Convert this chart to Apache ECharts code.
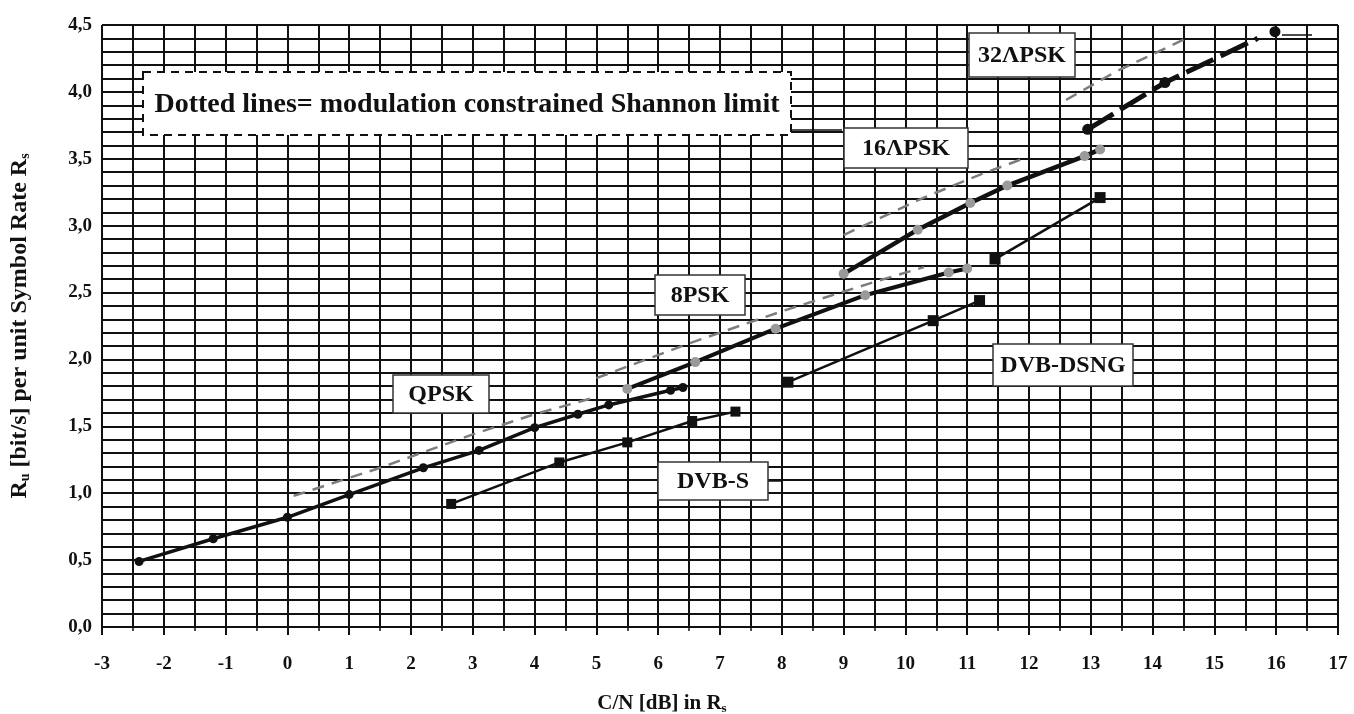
<!DOCTYPE html>
<html>
<head>
<meta charset="utf-8">
<title>Spectral efficiency vs C/N</title>
<script src="https://cdn.jsdelivr.net/npm/echarts@6/dist/echarts.min.js"></script>
<style>
  html, body { margin: 0; padding: 0; background: #fff; }
  #chart { width: 1354px; height: 714px; }
</style>
</head>
<body>
<div id="chart"></div>
<script>
// C/N [dB] (x) and efficiency [bit/s per symbol] (y)
const qpskCN = [-2.4, -1.2, 0.0, 1.0, 2.2, 3.1, 4.0, 4.7, 5.2, 6.2, 6.4]
const qpskEff = [0.49, 0.66, 0.82, 0.99, 1.19, 1.32, 1.49, 1.59, 1.66, 1.77, 1.79]

const psk8CN = [5.5, 6.6, 7.9, 9.35, 10.7, 11.0]
const psk8Eff = [1.78, 1.98, 2.23, 2.48, 2.65, 2.68]

const apsk16CN = [9.0, 10.2, 11.05, 11.65, 12.9, 13.15]
const apsk16Eff = [2.64, 2.97, 3.17, 3.30, 3.52, 3.57]

// last point of the 32APSK line has no marker, the end marker sits apart
const apsk32CN = [12.95, 14.2, 15.7]
const apsk32Eff = [3.72, 4.07, 4.40]
const apsk32EndCN = [15.98]
const apsk32EndEff = [4.45]

const dvbsCN = [2.65, 4.4, 5.5, 6.55, 7.25]
const dvbsEff = [0.92, 1.23, 1.38, 1.54, 1.61]

const dsng8CN = [8.1, 10.45, 11.2]
const dsng8Eff = [1.83, 2.29, 2.44]
const dsng16CN = [11.45, 13.15]
const dsng16Eff = [2.75, 3.21]

// modulation constrained Shannon limits (dotted lines)
const limQpskCN = [0.1, 1.5, 3.0, 4.0, 5.0]
const limQpskEff = [0.98, 1.19, 1.44, 1.59, 1.72]
const lim8CN = [5.0, 6.5, 8.0, 9.5, 10.3]
const lim8Eff = [1.86, 2.12, 2.36, 2.58, 2.69]
const lim16CN = [9.0, 10.3, 11.2, 11.9]
const lim16Eff = [2.93, 3.21, 3.38, 3.5]
const lim32CN = [12.6, 13.4, 14.5]
const lim32Eff = [3.94, 4.15, 4.39]

const xTicks = { min: -3, max: 17, step: 1 }
const yTicks = { min: 0, max: 4.5, step: 0.5 }

const pairs = (xs, ys) => xs.map((x, i) => [x, ys[i]])

const serif = 'Liberation Serif, Times New Roman, serif'
const ink = '#111'

const chart = echarts.init(document.getElementById('chart'))

const solid = (name, xs, ys, opts) => ({
  name,
  type: 'line',
  data: pairs(xs, ys).map((p, i) =>
    opts.noLastMark && i === xs.length - 1 ? { value: p, symbol: 'none' } : p
  ),
  z: 5,
  showAllSymbol: true,
  symbol: opts.symbol || 'circle',
  symbolSize: opts.size || 7,
  lineStyle: { color: ink, width: opts.width || 3, type: opts.dash || 'solid' },
  itemStyle: { color: opts.marker || ink },
  animation: false
})

const limit = (name, xs, ys) => ({
  name,
  type: 'line',
  data: pairs(xs, ys),
  z: 4,
  symbol: 'none',
  lineStyle: { color: '#7d7d7d', width: 2.5, type: [12, 8] },
  animation: false
})

const box = (text, cx, cy, w, h, size) => ({
  type: 'group',
  z: 100,
  children: [
    {
      type: 'rect',
      shape: { x: cx - w / 2, y: cy - h / 2, width: w, height: h },
      style: { fill: '#fff', stroke: '#333', lineWidth: 1.5 },
      z: 100
    },
    {
      type: 'text',
      x: cx,
      y: cy + 1,
      style: {
        text,
        fill: ink,
        font: 'bold ' + (size || 24) + 'px ' + serif,
        align: 'center',
        verticalAlign: 'middle'
      },
      z: 101
    }
  ]
})

// short leader line next to a label
const leader = (x1, y1, x2, y2) => ({
  type: 'line',
  z: 100,
  shape: { x1, y1, x2, y2 },
  style: { stroke: ink, lineWidth: 1.5 }
})

const option = {
  backgroundColor: '#fff',
  animation: false,
  grid: { left: 102, right: 16, top: 25, bottom: 87, containLabel: false, outerBoundsMode: 'none' },
  xAxis: {
    type: 'value',
    min: xTicks.min,
    max: xTicks.max,
    interval: xTicks.step,
    name: '{b|C/N [dB] in R}{s|s}',
    nameLocation: 'middle',
    nameGap: 66,
    nameTextStyle: {
      padding: [0, 116, 0, 0],
      rich: {
        b: { fontFamily: serif, fontWeight: 'bold', fontSize: 21, color: ink },
        s: { fontFamily: serif, fontWeight: 'bold', fontSize: 13, color: ink, padding: [9, 0, 0, 0] }
      }
    },
    axisLine: { lineStyle: { color: ink, width: 2 } },
    axisTick: { show: true, length: 8, lineStyle: { color: ink, width: 2 } },
    minorTick: { show: true, splitNumber: 2, length: 4, lineStyle: { color: ink, width: 1.5 } },
    splitLine: { show: true, lineStyle: { color: ink, width: 2 } },
    minorSplitLine: { show: true, lineStyle: { color: ink, width: 2 } },
    axisLabel: {
      fontFamily: serif, fontWeight: 'bold', fontSize: 19, color: ink, margin: 28
    }
  },
  yAxis: {
    type: 'value',
    min: yTicks.min,
    max: yTicks.max,
    interval: yTicks.step,
    name: '{b|R}{s|u}{b| [bit/s] per unit Symbol Rate R}{s|s}',
    nameLocation: 'middle',
    nameRotate: 90,
    nameGap: 70,
    nameTextStyle: {
      rich: {
        b: { fontFamily: serif, fontWeight: 'bold', fontSize: 24, color: ink },
        s: { fontFamily: serif, fontWeight: 'bold', fontSize: 14, color: ink, padding: [11, 0, 0, 0] }
      }
    },
    axisLine: { lineStyle: { color: ink, width: 2 } },
    axisTick: { show: true, length: 10, lineStyle: { color: ink, width: 2 } },
    minorTick: { show: true, splitNumber: 5, length: 4, lineStyle: { color: ink, width: 1.5 } },
    splitLine: { show: true, lineStyle: { color: ink, width: 2 } },
    minorSplitLine: { show: true, lineStyle: { color: ink, width: 2 } },
    axisLabel: {
      fontFamily: serif, fontWeight: 'bold', fontSize: 19, color: ink, margin: 10,
      formatter: v => v.toFixed(1).replace('.', ',')
    }
  },
  series: [
    limit('QPSK limit', limQpskCN, limQpskEff),
    limit('8PSK limit', lim8CN, lim8Eff),
    limit('16APSK limit', lim16CN, lim16Eff),
    limit('32APSK limit', lim32CN, lim32Eff),
    solid('QPSK', qpskCN, qpskEff, { width: 3.5, size: 9 }),
    solid('8PSK', psk8CN, psk8Eff, { width: 4, size: 10, marker: '#9a9a9a' }),
    solid('16APSK', apsk16CN, apsk16Eff, { width: 4.5, size: 10, marker: '#9a9a9a' }),
    solid('32APSK', apsk32CN, apsk32Eff, { width: 5, size: 11, dash: [30, 8], noLastMark: true }),
    solid('32APSK end', apsk32EndCN, apsk32EndEff, { width: 5, size: 11 }),
    solid('DVB-S', dvbsCN, dvbsEff, { width: 2.5, size: 10, symbol: 'rect' }),
    solid('DVB-DSNG 8PSK', dsng8CN, dsng8Eff, { width: 2.5, size: 11, symbol: 'rect' }),
    solid('DVB-DSNG 16QAM', dsng16CN, dsng16Eff, { width: 2.5, size: 11, symbol: 'rect' })
  ],
  graphic: [
    leader(792, 130, 842, 130),
    leader(1282, 35, 1312, 35),
    leader(768, 481, 782, 481),
    {
      type: 'group',
      z: 100,
      children: [
        {
          type: 'rect',
          shape: { x: 143, y: 72, width: 648, height: 63 },
          style: { fill: '#fff', stroke: ink, lineWidth: 2, lineDash: [8, 6] },
          z: 100
        },
        {
          type: 'text',
          x: 467,
          y: 105,
          style: {
            text: 'Dotted lines= modulation constrained Shannon limit',
            fill: ink,
            font: 'bold 28px ' + serif,
            align: 'center',
            verticalAlign: 'middle'
          },
          z: 101
        }
      ]
    },
    box('32ΛPSK', 1022, 55, 106, 44),
    box('16ΛPSK', 906, 148, 124, 40),
    box('8PSK', 700, 295, 90, 40),
    box('QPSK', 441, 394, 96, 38),
    box('DVB-S', 713, 481, 110, 38),
    box('DVB-DSNG', 1063, 365, 140, 42)
  ]
}

chart.setOption(option)
</script>
</body>
</html>
